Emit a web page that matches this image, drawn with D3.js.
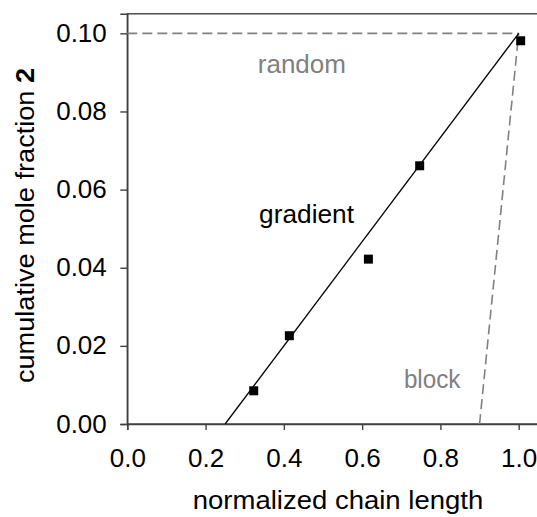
<!DOCTYPE html>
<html>
<head>
<meta charset="utf-8">
<script src="https://cdn.jsdelivr.net/npm/d3@7"></script>
<style>
  body { margin: 0; background: #fff; }
  svg { display: block; font-family: "Liberation Sans", Arial, sans-serif; }
</style>
</head>
<body>
<div id="chart"></div>
<script>
"use strict";

// measured samples
const sampleX = [0.323, 0.414, 0.616, 0.747, 1.005];
const sampleY = [0.0085, 0.0226, 0.0422, 0.0661, 0.0981];

// ideal profiles
const gradientX = [0.25, 1.0];
const gradientY = [0.0, 0.1];
const randomX = [0.0, 1.0];
const randomY = [0.1, 0.1];
const blockX = [0.9, 1.0];
const blockY = [0.0, 0.1];

const xTicks = [0, 0.2, 0.4, 0.6, 0.8, 1.0];
const yTicks = [0, 0.02, 0.04, 0.06, 0.08, 0.10];

let width = 537, height = 517;
let margin = { top: 13.8, left: 127.3 };

let svg = d3.select("#chart").append("svg")
  .attr("width", width)
  .attr("height", height);

let x = d3.scaleLinear().domain([0, 1.05]).range([margin.left, margin.left + 1.05 * 391.4]);
let y = d3.scaleLinear().domain([0, 0.105]).range([424, margin.top]);

function stretch(sel, k) {
  sel.each(function() {
    let w = this.getComputedTextLength();
    d3.select(this).attr("textLength", w * k).attr("lengthAdjust", "spacingAndGlyphs");
  });
}

// frame
svg.append("rect")
  .attr("x", x(0)).attr("y", y(0.105))
  .attr("width", x(1.05) - x(0)).attr("height", y(0) - y(0.105))
  .attr("fill", "none").attr("stroke", "#404040").attr("stroke-width", 1.4);

// axes
let xAxis = svg.append("g")
  .attr("transform", `translate(0,${y(0)})`)
  .call(d3.axisBottom(x).tickValues(xTicks).tickFormat(d3.format(".1f")).tickSize(6).tickPadding(19));

let yAxis = svg.append("g")
  .attr("transform", `translate(${x(0)},0)`)
  .call(d3.axisLeft(y).tickValues(yTicks).tickFormat(d3.format(".2f")).tickSize(7).tickPadding(13.5));

[xAxis, yAxis].forEach(ax => {
  ax.select(".domain").attr("stroke", "#404040").attr("stroke-width", 1.4);
  ax.selectAll(".tick line").attr("stroke", "#404040").attr("stroke-width", 1.4);
  ax.selectAll(".tick text")
    .attr("fill", "#000")
    .style("font-size", "25px")
    .style("font-family", "\"Liberation Sans\", Arial, sans-serif");
});
stretch(xAxis.selectAll(".tick text"), 1.04);
stretch(yAxis.selectAll(".tick text"), 1.04);

// profile lines
let line = d3.line().x(d => x(d[0])).y(d => y(d[1]));

svg.append("path")
  .datum(d3.zip(randomX, randomY))
  .attr("d", line)
  .attr("fill", "none").attr("stroke", "#808080").attr("stroke-width", 1.6)
  .attr("stroke-dasharray", "10,5");

svg.append("path")
  .datum(d3.zip(blockX, blockY))
  .attr("d", line)
  .attr("fill", "none").attr("stroke", "#808080").attr("stroke-width", 1.6)
  .attr("stroke-dasharray", "10,5");

svg.append("path")
  .datum(d3.zip(gradientX, gradientY))
  .attr("d", line)
  .attr("fill", "none").attr("stroke", "#000").attr("stroke-width", 1.3);

// samples
svg.selectAll(".pt").data(d3.zip(sampleX, sampleY))
  .enter().append("path")
  .attr("class", "pt")
  .attr("transform", d => `translate(${x(d[0])},${y(d[1])})`)
  .attr("d", d3.symbol().type(d3.symbolSquare).size(81))
  .attr("fill", "#000");

// annotations
function label(text, px, py, color, k) {
  let t = svg.append("text")
    .attr("x", x(px)).attr("y", y(py))
    .attr("text-anchor", "middle")
    .attr("fill", color)
    .style("font-size", "25px")
    .text(text);
  stretch(t, k);
}
label("random", 0.446, 0.0898, "#808080", 1.04);
label("gradient", 0.458, 0.0515, "#000", 1.05);
label("block", 0.779, 0.0091, "#808080", 0.97);

// axis titles
let xt = svg.append("text")
  .attr("x", 338).attr("y", 509)
  .attr("text-anchor", "middle")
  .style("font-size", "25px")
  .text("normalized chain length");
stretch(xt, 1.1);

let yt = svg.append("text")
  .attr("transform", "translate(34,225.5) rotate(-90)")
  .attr("text-anchor", "middle")
  .style("font-size", "25px");
yt.append("tspan").text("cumulative mole fraction ");
yt.append("tspan").style("font-weight", "bold").text("2");
stretch(yt, 1.085);
</script>
</body>
</html>
